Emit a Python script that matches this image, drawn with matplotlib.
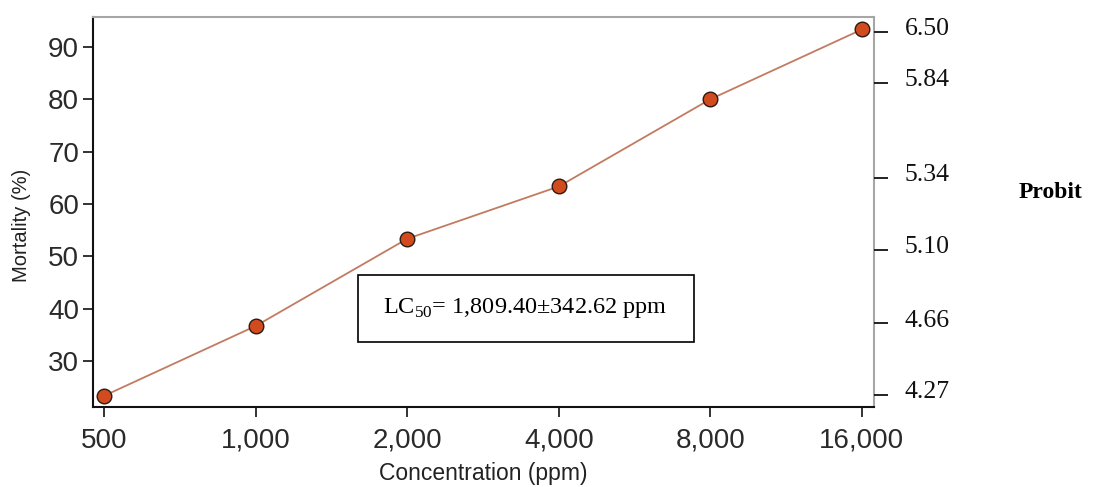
import matplotlib
matplotlib.use("Agg")
from matplotlib import pyplot as plt
from matplotlib.patches import Rectangle
import matplotlib.transforms as mtransforms

# data
conc_labels = ["500", "1,000", "2,000", "4,000", "8,000", "16,000"]
mortality = [23.33, 36.67, 53.33, 63.33, 80.0, 93.33]
probit_labels = ["4.27", "4.66", "5.10", "5.34", "5.84", "6.50"]
# where the probit marks sit on the mortality scale
probit_at = [23.5, 37.2, 51.2, 65.0, 83.1, 92.9]

plt.rcParams['font.family'] = ['Liberation Sans', 'DejaVu Sans']
plt.rcParams['mathtext.fontset'] = 'custom'
plt.rcParams['mathtext.rm'] = 'Liberation Serif'

fig = plt.figure(figsize=(10.98, 4.87), dpi=100)
ax = fig.add_axes([0.0847, 0.1643, 0.7113, 0.8007])

x = list(range(len(conc_labels)))
ax.plot(x, mortality, color="#c27b60", lw=1.3, zorder=2)
ax.plot(x, mortality, ls="none", marker="o", ms=10.5, mfc="#d24b1e",
        mec="#2b1a12", mew=1.0, zorder=3)

ax.set_xlim(-0.073, 5.08)
ax.set_ylim(21.2, 95.7)
ax.set_xticks(x)
ax.set_xticklabels(conc_labels)
ax.set_yticks([30, 40, 50, 60, 70, 80, 90])
ax.tick_params(axis="both", direction="out", length=7, width=1.2,
               labelsize=20, labelcolor="#2a2a2a", colors="#111111")
ax.tick_params(axis="y", pad=3)
ax.tick_params(axis="x", pad=8)
ax.set_xlabel("Concentration (ppm)", fontsize=16.5, color="#222222", labelpad=6)
ax.set_ylabel("Mortality (%)", fontsize=14.5, color="#222222")
ax.yaxis.set_label_coords(-0.08, 0.465)

for s in ["left", "bottom"]:
    ax.spines[s].set_color("#111111")
    ax.spines[s].set_linewidth(1.5)
for s in ["top", "right"]:
    ax.spines[s].set_color("#a6a6a6")
    ax.spines[s].set_linewidth(1.5)

# probit axis on the right
ax2 = ax.twinx()
ax2.set_ylim(ax.get_ylim())
ax2.set_yticks(probit_at)
ax2.set_yticklabels(probit_labels, family="Liberation Serif", fontsize=18.5)
ax2.tick_params(axis="y", direction="out", length=10, width=1.3,
                colors="#111111", labelcolor="#111111", pad=12)
for s in ax2.spines.values():
    s.set_visible(False)
offset = mtransforms.ScaledTranslation(0, 5 / 100, fig.dpi_scale_trans)
for lab in ax2.get_yticklabels():
    lab.set_transform(lab.get_transform() + offset)

fig.text(0.957, 0.604, "Probit", family="Liberation Serif", fontsize=17,
         fontweight="bold", ha="center", va="center")

# LC50 box
fig.patches.append(Rectangle((0.326, 0.2977), 0.306, 0.1376, transform=fig.transFigure,
                             fill=False, edgecolor="black", lw=1.2, zorder=5))
fig.text(0.478, 0.3676, r"LC$_{\mathrm{50}}$= 1,809.40±342.62 ppm",
         family="Liberation Serif", fontsize=17.5, ha="center", va="center")

plt.savefig("out.png", dpi=100)
